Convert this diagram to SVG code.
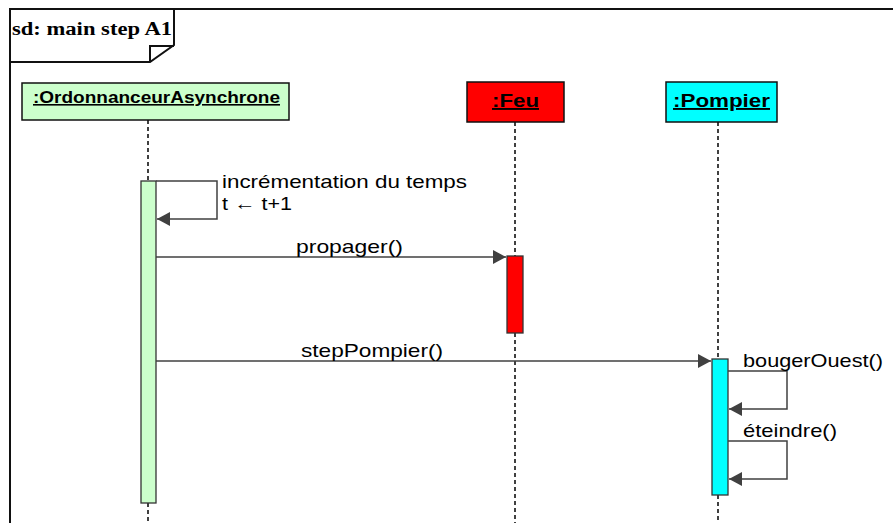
<svg xmlns="http://www.w3.org/2000/svg" width="893" height="523" viewBox="0 0 893 523">
<style>
.frame{fill:none;stroke:#111;stroke-width:2}
.head{stroke:#111;stroke-width:1.5}
.life{stroke:#404040;stroke-width:2;stroke-dasharray:4 3}
.act{stroke:#333;stroke-width:1.3}
.msg{fill:none;stroke:#404040;stroke-width:1.5}
.t{font-family:"Liberation Sans",Arial,sans-serif;font-size:19px;fill:#000}
.hd{font-family:"Liberation Sans",Arial,sans-serif;font-weight:bold;text-decoration:underline;fill:#000}
</style>
<defs>
<marker id="ah" markerWidth="13" markerHeight="14" refX="13" refY="7" orient="auto" markerUnits="userSpaceOnUse">
<path d="M0,0 L13,7 L0,14 Z" fill="#404040"/>
</marker>
</defs>
<rect width="893" height="523" fill="#fff"/>
<g id="frame">
<path class="frame" d="M10,523 L10,9 L893,9"/>
<path class="frame" d="M10,62 L150,62 L174,45 L174,9"/>
<path class="frame" d="M150,62 L150,46 L174,46" stroke-width="1.2"/>
<text x="12" y="35" textLength="160" lengthAdjust="spacingAndGlyphs" style="font-family:'Liberation Serif','Times New Roman',serif;font-weight:bold;font-size:18.5px">sd: main step A1</text>
</g>
<g id="ordonnanceur">
<line class="life" x1="148" y1="120" x2="148" y2="181"/>
<line class="life" x1="148" y1="503" x2="148" y2="523"/>
<rect class="head" x="22" y="83" width="267" height="37" fill="#ccffcc"/>
<text class="hd" x="33" y="103" font-size="16" textLength="247" lengthAdjust="spacingAndGlyphs">:OrdonnanceurAsynchrone</text>
<rect class="act" x="141" y="181" width="15" height="322" fill="#ccffcc"/>
</g>
<g id="feu">
<line class="life" x1="515" y1="122" x2="515" y2="256"/>
<line class="life" x1="515" y1="333" x2="515" y2="523"/>
<rect class="head" x="467" y="82" width="97" height="40" fill="#ff0000"/>
<text class="hd" x="492" y="107" font-size="19" textLength="47" lengthAdjust="spacingAndGlyphs">:Feu</text>
<rect class="act" x="507" y="256" width="16" height="77" fill="#ff0000"/>
</g>
<g id="pompier">
<line class="life" x1="718" y1="122" x2="718" y2="359"/>
<line class="life" x1="718" y1="495" x2="718" y2="523"/>
<rect class="head" x="666" y="82" width="111" height="40" fill="#00ffff"/>
<text class="hd" x="673" y="107" font-size="19" textLength="97" lengthAdjust="spacingAndGlyphs">:Pompier</text>
<rect class="act" x="712" y="359" width="16" height="136" fill="#00ffff"/>
</g>
<g id="connectors">
<path class="msg" d="M156,181 L217,181 L217,219 L157,219" marker-end="url(#ah)"/>
<line class="msg" x1="156" y1="257" x2="506" y2="257" marker-end="url(#ah)"/>
<line class="msg" x1="156" y1="361" x2="711" y2="361" marker-end="url(#ah)"/>
<path class="msg" d="M728,371 L787,371 L787,409 L729,409" marker-end="url(#ah)"/>
<path class="msg" d="M728,441 L787,441 L787,479 L729,479" marker-end="url(#ah)"/>
<text class="t" x="222" y="188" textLength="245" lengthAdjust="spacingAndGlyphs">incrémentation du temps</text>
<text class="t" x="222" y="210" textLength="70" lengthAdjust="spacingAndGlyphs">t ← t+1</text>
<text class="t" x="296" y="253" textLength="107" lengthAdjust="spacingAndGlyphs">propager()</text>
<text class="t" x="301" y="357" textLength="142" lengthAdjust="spacingAndGlyphs">stepPompier()</text>
<text class="t" x="743" y="367" textLength="140" lengthAdjust="spacingAndGlyphs">bougerOuest()</text>
<text class="t" x="743" y="437" textLength="94" lengthAdjust="spacingAndGlyphs">éteindre()</text>
</g>
</svg>
